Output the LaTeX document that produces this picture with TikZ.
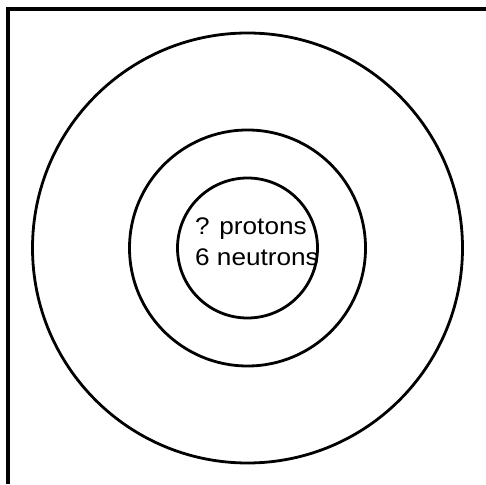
\documentclass[tikz,border=0pt]{standalone}
\usepackage{fontspec}
\setmainfont{Liberation Sans}
\newfontfamily\corefont[FakeStretch=1.09]{Liberation Sans}
\begin{document}
\begin{tikzpicture}[x=1pt, y=1pt, shell/.style={draw, circle, line width=2.8pt, inner sep=0pt}]
  \useasboundingbox (0,0) rectangle (486,484);
  % Rahmen oben und links
  \draw[line width=4pt] (8,0) -- (8,475) -- (486,475);
  % Schalen
  \node[shell, minimum size=430pt] (outer) at (247.5,236) {};
  \node[shell, minimum size=236pt] (middle) at (247.5,236) {};
  \node[shell, minimum size=140pt] (inner) at (247.5,236) {};
  % Kern
  \node[anchor=base west, align=left, inner sep=0pt, font=\corefont\fontsize{24}{31}\selectfont] (core) at (195,218) {? protons\\6 neutrons};
\end{tikzpicture}
\end{document}
